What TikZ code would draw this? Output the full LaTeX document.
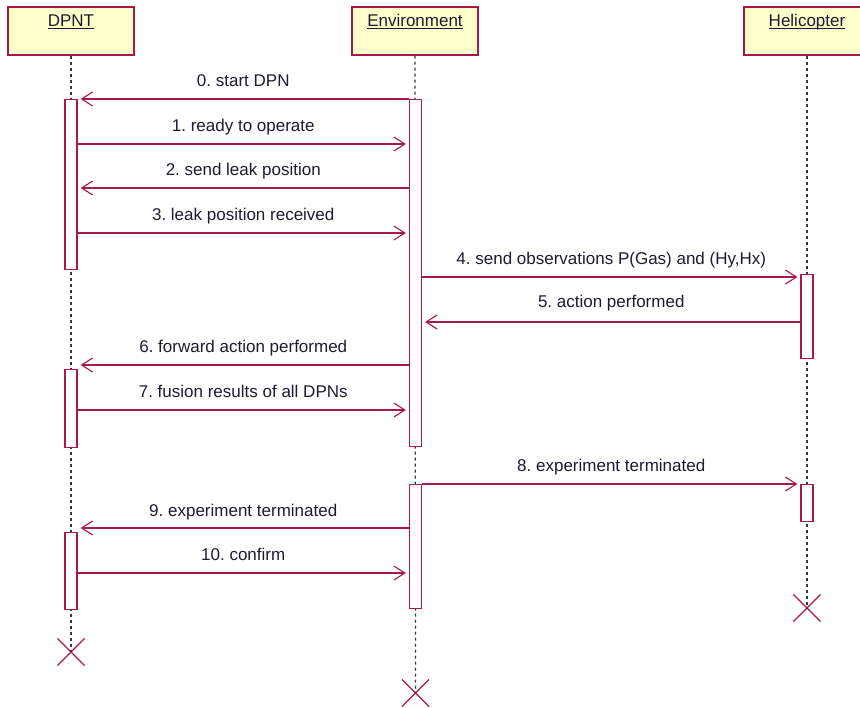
\documentclass[tikz,border=0pt]{standalone}
\usepackage{fontspec}
\setmainfont{Liberation Sans}
\usetikzlibrary{arrows.meta,shapes.misc}
\frenchspacing
\definecolor{umlline}{RGB}{168,24,74}
\definecolor{umlfill}{RGB}{255,255,204}
\definecolor{umltext}{RGB}{28,28,48}
\definecolor{lifegray}{RGB}{55,55,55}
\tikzset{
  headbox/.style={draw=umlline, fill=umlfill, line width=1.2pt, minimum width=126pt, minimum height=48pt, inner sep=0pt},
  headtxt/.style={anchor=base, inner sep=0pt, text=umltext, font=\fontsize{17}{20}\selectfont},
  underln/.style={draw=umltext, line width=0.8pt},
  lifeline/.style={draw=lifegray, line width=1.3pt, dash pattern=on 3pt off 3pt},
  actbar/.style={draw=umlline, fill=white, line width=1.2pt, minimum width=12pt, inner sep=0pt, anchor=north},
  msg/.style={draw=umlline, line width=1.1pt, shorten >=3pt,
    -{Straight Barb[length=11pt,width=14pt,line width=1.1pt]}},
  lbl/.style={midway, anchor=base, yshift=12pt, inner sep=0pt, text=umltext, font=\fontsize{17}{20}\selectfont},
  endmark/.style={draw=umlline, cross out, line width=1.1pt, minimum size=26pt, inner sep=0pt},
}
\begin{document}
\begin{tikzpicture}[x=1pt, y=-1pt]
\useasboundingbox (0,0) rectangle (860,708);

% participant heads
\node[headbox] (dpnt) at (71,31) {};
\node[headbox] (env) at (415,31) {};
\node[headbox] (heli) at (807,31) {};
\node[headtxt] (dpntT) at ([yshift=-20pt]dpnt.north) {DPNT};
\node[headtxt] (envT) at ([yshift=-20pt]env.north) {Environment};
\node[headtxt] (heliT) at ([yshift=-20pt]heli.north) {Helicopter};
\foreach \t in {dpntT,envT,heliT}
  \draw[underln] ([yshift=-2.5pt]\t.base west) -- ([yshift=-2.5pt]\t.base east);

% destruction marks
\node[endmark] (dX) at (71,652) {};
\node[endmark] (eX) at (415.5,693) {};
\node[endmark] (hX) at (807,608) {};

% lifelines
\draw[lifeline] (dpnt.south) -- (dX.center);
\draw[lifeline] (env.south) -- (eX.center);
\draw[lifeline] (heli.south) -- (hX.center);

% activation bars
\node[actbar, minimum height=170pt] (dA1) at (71,99) {};
\node[actbar, minimum height=78pt] (dA2) at (71,369) {};
\node[actbar, minimum height=77pt] (dA3) at (71,532) {};
\node[actbar, minimum height=347pt] (eA1) at (415.5,99) {};
\node[actbar, minimum height=124pt] (eA2) at (415.5,484) {};
\node[actbar, minimum height=84pt] (hA1) at (807,274) {};
\node[actbar, minimum height=37pt] (hA2) at (807,484) {};

% messages
\draw[msg] (eA1.west |- 0,99) -- node[lbl] {0. start DPN} (dA1.east |- 0,99);
\draw[msg] (dA1.east |- 0,144) -- node[lbl] {1. ready to operate} (eA1.west |- 0,144);
\draw[msg] (eA1.west |- 0,188) -- node[lbl] {2. send leak position} (dA1.east |- 0,188);
\draw[msg] (dA1.east |- 0,233) -- node[lbl] {3. leak position received} (eA1.west |- 0,233);
\draw[msg] (eA1.east |- 0,277) -- node[lbl] {4. send observations P(Gas) and (Hy,Hx)} (hA1.west |- 0,277);
\draw[msg] (hA1.west |- 0,322) -- node[lbl, yshift=2pt] {5. action performed} (eA1.east |- 0,322);
\draw[msg] (eA1.west |- 0,365) -- node[lbl] {6. forward action performed} (dA2.east |- 0,365);
\draw[msg] (dA2.east |- 0,410) -- node[lbl] {7. fusion results of all DPNs} (eA1.west |- 0,410);
\draw[msg] (eA2.east |- 0,484) -- node[lbl] {8. experiment terminated} (hA2.west |- 0,484);
\draw[msg] (eA2.west |- 0,528) -- node[lbl] {9. experiment terminated} (dA3.east |- 0,528);
\draw[msg] (dA3.east |- 0,573) -- node[lbl] {10. confirm} (eA2.west |- 0,573);
\end{tikzpicture}
\end{document}
